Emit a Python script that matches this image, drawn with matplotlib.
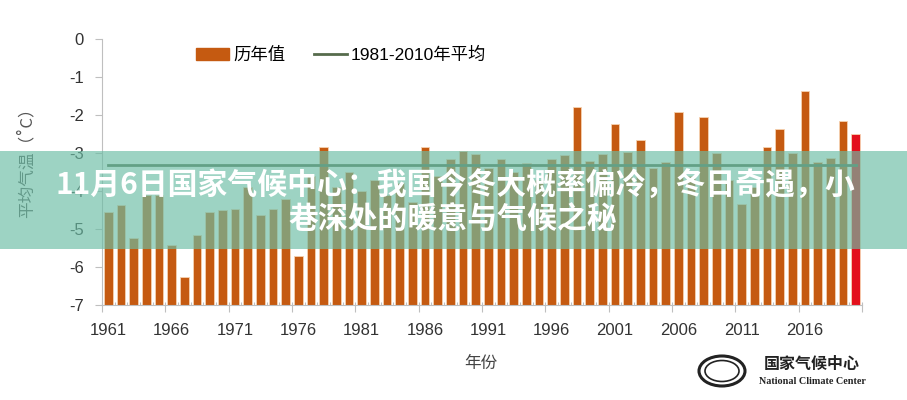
import numpy as np
import matplotlib
matplotlib.use("Agg")
import matplotlib.pyplot as plt
from matplotlib.patches import Patch, Rectangle, Ellipse
from matplotlib.lines import Line2D

plt.rcParams["font.family"] = ["Liberation Sans", "Noto Sans CJK SC", "DejaVu Sans"]

# -----------------------------
# data
# -----------------------------
years = list(range(1961, 2021))
temps = [
    -4.56, -4.38, -5.23, -4.10, -4.10, -5.43, -6.25, -5.17, -4.56, -4.50,
    -4.47, -3.90, -4.62, -4.47, -4.20, -5.72, -3.60, -2.85, -3.90, -3.50,
    -4.00, -3.70, -4.10, -3.80, -4.30, -2.83, -3.60, -3.17, -2.95, -3.03,
    -3.40, -3.15, -3.50, -3.27, -3.70, -3.15, -3.05, -1.80, -3.20, -3.02,
    -2.25, -2.98, -2.67, -3.40, -3.24, -1.92, -3.60, -2.04, -3.00, -3.70,
    -4.34, -3.90, -2.85, -2.37, -3.00, -1.38, -3.23, -3.12, -2.17, -2.50,
]
avg_1981_2010 = -3.32
yticks = [0, -1, -2, -3, -4, -5, -6, -7]

bar_color = "#C55A11"
last_color = "#E3101C"
avg_color = "#566B4C"

# -----------------------------
# figure
# -----------------------------
fig = plt.figure(figsize=(9.07, 4.0), dpi=100)
ax = fig.add_axes([102 / 907, 1 - 305 / 400, 760 / 907, 266 / 400])

idx = np.arange(len(years))
base = yticks[-1]
heights = [t - base for t in temps]
colors = [bar_color] * (len(years) - 1) + [last_color]
ax.bar(idx, heights, bottom=base, width=0.7, color=colors,
       edgecolor="#F6D2B0", linewidth=0.6, zorder=2)
ax.plot(idx, [avg_1981_2010] * len(idx), color=avg_color, linewidth=2, zorder=3)

ax.set_xlim(-0.5, len(years) - 0.5)
ax.set_ylim(base, 0)
ax.set_yticks(yticks)
ax.set_yticklabels([str(v) for v in yticks])

ax.set_xticks(np.arange(-0.5, len(years), 5))
ax.set_xticklabels([])
ax.set_xticks(idx[::5], labels=[str(y) for y in years[::5]], minor=True)
ax.tick_params(axis="x", which="major", length=5, color="#BFBFBF", direction="out")
ax.tick_params(axis="x", which="minor", length=0, pad=13, labelsize=12, labelcolor="#333333")
ax.tick_params(axis="y", length=5, color="#BFBFBF", pad=8, labelsize=12, labelcolor="#333333")

sec = ax.secondary_xaxis("bottom")
sec.set_xticks(np.arange(-0.5, len(years), 1))
sec.set_xticklabels([])
sec.tick_params(length=2.5, direction="in", color="#BFBFBF")
sec.spines["bottom"].set_visible(False)

for s in ["top", "right"]:
    ax.spines[s].set_visible(False)
for s in ["left", "bottom"]:
    ax.spines[s].set_color("#BFBFBF")

ax.set_ylabel("平均气温（˚C）", fontsize=12, color="#555555",
              family=["Noto Sans CJK SC", "DejaVu Sans"])
ax.yaxis.set_label_coords(-0.088, 0.55)

handles = [Patch(facecolor=bar_color, edgecolor=bar_color),
           Line2D([0], [0], color=avg_color, linewidth=2)]
ax.legend(handles, ["历年值", "1981-2010年平均"], loc="center", ncol=2,
          bbox_to_anchor=(0.315, 0.94), frameon=False, fontsize=12.5,
          handlelength=1.9, handletextpad=0.25, columnspacing=1.6)

fig.text(481 / 907, 1 - 363 / 400, "年份", ha="center", va="center",
         fontsize=12, color="#444444")

# -----------------------------
# title band overlay
# -----------------------------
fig.patches.append(Rectangle((0, 1 - 249 / 400), 1, 98 / 400,
                             transform=fig.transFigure, facecolor="#6BBDA5",
                             alpha=0.66, edgecolor="none", zorder=5))
title_font = ["Noto Sans CJK SC", "DejaVu Sans"]
fig.text(455 / 907, 1 - 185 / 400, "11月6日国家气候中心：我国今冬大概率偏冷，冬日奇遇，小",
         ha="center", va="center", fontsize=21.5, fontweight="bold",
         color="white", family=title_font, zorder=6)
fig.text(453 / 907, 1 - 219 / 400, "巷深处的暖意与气候之秘",
         ha="center", va="center", fontsize=21.5, fontweight="bold",
         color="white", family=title_font, zorder=6)

# -----------------------------
# logo
# -----------------------------
for w, h, lw in [(46, 30, 2.2), (34, 21, 1.2)]:
    fig.patches.append(Ellipse((722 / 907, 1 - 371 / 400), w / 907, h / 400,
                               transform=fig.transFigure, facecolor="none",
                               edgecolor="#222222", linewidth=lw, zorder=4))
fig.text(812 / 907, 1 - 364 / 400, "国家气候中心", ha="center", va="center",
         fontsize=11.5, fontweight="bold", color="#222222", family=title_font)
fig.text(812 / 907, 1 - 381 / 400, "National Climate Center", ha="center",
         va="center", fontsize=7.3, fontweight="bold", color="#222222",
         family="Liberation Serif")

fig.savefig("out.png", dpi=100)
